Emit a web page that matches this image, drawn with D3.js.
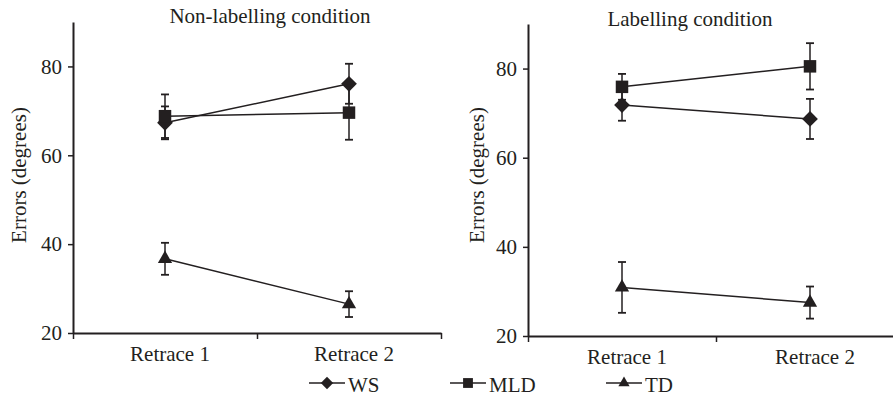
<!DOCTYPE html>
<html>
<head>
<meta charset="utf-8">
<script src="https://cdn.jsdelivr.net/npm/d3@7"></script>
<style>
  html, body { margin: 0; padding: 0; background: #fff; }
  svg { display: block; }
</style>
</head>
<body>
<div id="chart"></div>
<script>
const WIDTH = 893;
const HEIGHT = 398;
const FONT = 'Liberation Serif, Tinos, Times New Roman, DejaVu Serif, serif';

// categories
const retraces = ['Retrace 1', 'Retrace 2'];
const groups = ['WS', 'MLD', 'TD'];
const yTicks = [20, 40, 60, 80];

// non-labelling condition: means and error bars (degrees)
const wsNonLab = [67.3, 76.1];
const wsNonLabErr = [3.7, 4.5];
const mldNonLab = [68.8, 69.6];
const mldNonLabErr = [4.9, 6.1];
const tdNonLab = [36.7, 26.5];
const tdNonLabErr = [3.6, 2.9];

// labelling condition
const wsLab = [71.8, 68.7];
const wsLabErr = [3.5, 4.5];
const mldLab = [75.9, 80.5];
const mldLabErr = [2.9, 5.2];
const tdLab = [30.9, 27.5];
const tdLabErr = [5.7, 3.6];

const panels = [
  {
    title: 'Non-labelling condition',
    x0: 73, x1: 441, yTop: 22, yBottom: 333, titleX: 270, titleY: 23, labelX: 19,
    series: { WS: [wsNonLab, wsNonLabErr], MLD: [mldNonLab, mldNonLabErr], TD: [tdNonLab, tdNonLabErr] }
  },
  {
    title: 'Labelling condition',
    x0: 528, x1: 904, yTop: 24, yBottom: 336, titleX: 690, titleY: 26, labelX: 477,
    series: { WS: [wsLab, wsLabErr], MLD: [mldLab, mldLabErr], TD: [tdLab, tdLabErr] }
  }
];

const INK = '#231f20';

// marker shapes
const symbols = {
  WS: { type: d3.symbolSquare, size: 124, rotate: 45 },
  MLD: { type: d3.symbolSquare, size: 156, rotate: 0 },
  TD: { type: d3.symbolTriangle, size: 88, rotate: 0 }
};

const svg = d3.select('#chart').append('svg')
  .attr('width', WIDTH)
  .attr('height', HEIGHT)
  .attr('viewBox', `0 0 ${WIDTH} ${HEIGHT}`)
  .attr('font-family', FONT);

panels.forEach(p => {
  const g = svg.append('g').attr('class', 'panel');

  const x = d3.scaleBand().domain(retraces).range([p.x0, p.x1]);
  const y = d3.scaleLinear().domain([20, 90]).range([p.yBottom, p.yTop]);
  const edges = d3.scaleLinear().domain([0, retraces.length]).range([p.x0, p.x1]);

  // y axis
  const yAxis = g.append('g')
    .attr('transform', `translate(${p.x0},0)`)
    .call(d3.axisLeft(y).tickValues(yTicks).tickSize(5).tickSizeOuter(0).tickPadding(6));

  // x axis: ticks at band edges, labels at band centres
  const xEdge = g.append('g')
    .attr('transform', `translate(0,${p.yBottom})`)
    .call(d3.axisBottom(edges).tickValues(d3.range(retraces.length + 1)).tickFormat('').tickSize(6).tickSizeOuter(0));

  const xLab = g.append('g')
    .attr('transform', `translate(0,${p.yBottom})`)
    .call(d3.axisBottom(x).tickSize(0).tickPadding(13));
  xLab.select('.domain').remove();
  xLab.selectAll('text').attr('dx', 5);

  [yAxis, xEdge].forEach(a => {
    a.select('.domain').attr('stroke', INK).attr('stroke-width', 2);
    a.selectAll('.tick line').attr('stroke', INK).attr('stroke-width', 1.5);
  });
  [yAxis, xEdge, xLab].forEach(a => a.attr('font-family', FONT).attr('font-size', 21));
  g.selectAll('.tick text').attr('fill', INK);

  // title
  g.append('text')
    .attr('x', p.titleX)
    .attr('y', p.titleY)
    .attr('text-anchor', 'middle')
    .attr('font-size', 21)
    .attr('fill', INK)
    .text(p.title);

  // y axis label
  g.append('text')
    .attr('transform', `translate(${p.labelX},175) rotate(-90)`)
    .attr('text-anchor', 'middle')
    .attr('dy', '0.35em')
    .attr('font-size', 21)
    .attr('fill', INK)
    .text('Errors (degrees)');

  const cx = r => x(r) + x.bandwidth() / 2;

  groups.forEach(name => {
    const [means, errs] = p.series[name];
    const pts = retraces.map((r, i) => ({ r, m: means[i], e: errs[i] }));

    // connecting line
    g.append('path')
      .datum(pts)
      .attr('fill', 'none')
      .attr('stroke', INK)
      .attr('stroke-width', 1.5)
      .attr('d', d3.line().x(d => cx(d.r)).y(d => y(d.m)));

    // error bars
    const eb = g.append('g').selectAll('g').data(pts).enter().append('g');
    eb.append('line')
      .attr('x1', d => cx(d.r)).attr('x2', d => cx(d.r))
      .attr('y1', d => y(d.m - d.e)).attr('y2', d => y(d.m + d.e))
      .attr('stroke', INK).attr('stroke-width', 1.5);
    [-1, 1].forEach(s => {
      eb.append('line')
        .attr('x1', d => cx(d.r) - 4).attr('x2', d => cx(d.r) + 4)
        .attr('y1', d => y(d.m + s * d.e)).attr('y2', d => y(d.m + s * d.e))
        .attr('stroke', INK).attr('stroke-width', 1.8);
    });

    // markers
    const sym = symbols[name];
    g.append('g').selectAll('path').data(pts).enter().append('path')
      .attr('d', d3.symbol().type(sym.type).size(sym.size))
      .attr('transform', d => `translate(${cx(d.r)},${y(d.m)}) rotate(${sym.rotate})`)
      .attr('fill', INK);
  });
});

// legend
const legendX = [309, 450, 606];
const legendY = 383;
const leg = svg.append('g').attr('class', 'legend')
  .selectAll('g').data(groups).enter().append('g')
  .attr('transform', (d, i) => `translate(${legendX[i]},${legendY})`);

leg.append('line')
  .attr('x1', 0).attr('x2', 36).attr('y1', 0).attr('y2', 0)
  .attr('stroke', INK).attr('stroke-width', 1.5);
leg.append('path')
  .attr('d', d => d3.symbol().type(symbols[d].type).size(symbols[d].size * 0.62)())
  .attr('transform', d => `translate(18,0) rotate(${symbols[d].rotate})`)
  .attr('fill', INK);
leg.append('text')
  .attr('x', 39)
  .attr('y', 9)
  .attr('font-size', 21)
  .attr('fill', INK)
  .text(d => d);
</script>
</body>
</html>
